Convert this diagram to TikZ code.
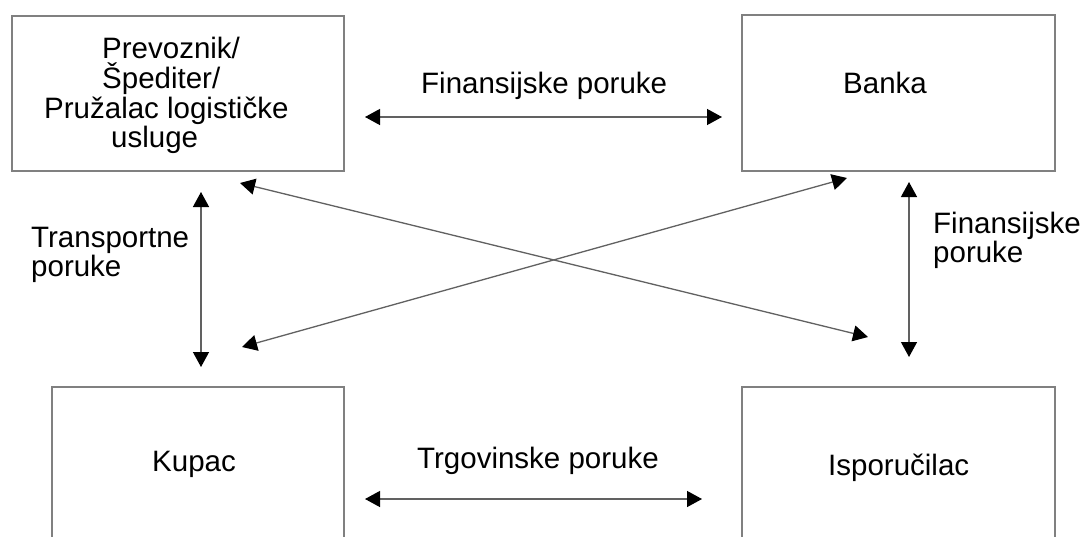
\documentclass[tikz,border=0pt]{standalone}
\usepackage{fontspec}
\setmainfont{Liberation Sans}
\usetikzlibrary{arrows.meta}

\begin{document}
\begin{tikzpicture}[x=1pt,y=-1pt,
  party/.style={draw=black!50, line width=1.6pt, fill=none, inner sep=0pt},
  txt/.style={anchor=base west, inner sep=0pt, font=\fontsize{29.5}{30}\selectfont, text=black},
  msg/.style={draw=black!62, line width=1.3pt,
    {Triangle[length=15pt,width=16pt,color=black]}-{Triangle[length=15pt,width=16pt,color=black]}}
]
\clip (0,0) rectangle (1083,536);
\fill[white] (0,0) rectangle (1083,536);

% the four parties
\node[party, minimum width=332pt, minimum height=155pt] (carrier) at (178,93.5) {};
\node[party, minimum width=313pt, minimum height=156pt] (bank) at (898.5,93) {};
\node[party, minimum width=292pt, minimum height=173pt] (buyer) at (198,473.5) {};
\node[party, minimum width=313pt, minimum height=173pt] (supplier) at (898.5,473.5) {};

% party names
\node[txt] (c1) at (102,58) {Prevoznik/};
\node[txt] (c2) at (102,88) {Špediter/};
\node[txt] (c3) at (44,118) {Pružalac logističke};
\node[txt] (c4) at (111,147) {usluge};
\node[txt] (bankname) at (843,93) {Banka};
\node[txt] (buyername) at (152,471) {Kupac};
\node[txt] (suppliername) at (828,475) {Isporučilac};

% message labels
\node[txt] (finTop) at (421,93) {Finansijske poruke};
\node[txt] (trade) at (417,468) {Trgovinske poruke};
\node[txt] (tr1) at (31,247) {Transportne};
\node[txt] (tr2) at (31,276) {poruke};
\node[txt] (fr1) at (933,233) {Finansijske};
\node[txt] (fr2) at (933,262) {poruke};

% arrow end points
\coordinate (hTopL) at (365,117);
\coordinate (hTopR) at (722,117);
\coordinate (hBotL) at (365,499);
\coordinate (hBotR) at (702,499);
\coordinate (vLeftT) at (201,192);
\coordinate (vLeftB) at (201,367);
\coordinate (vRightT) at (909,182);
\coordinate (vRightB) at (909,357);
\coordinate (dA1) at (240,183);
\coordinate (dA2) at (868,337);
\coordinate (dB1) at (242,347);
\coordinate (dB2) at (847,178);

% message flows
\draw[msg] (hTopL) -- (hTopR);
\draw[msg] (hBotL) -- (hBotR);
\draw[msg] (vLeftT) -- (vLeftB);
\draw[msg] (vRightT) -- (vRightB);
\draw[msg] (dA1) -- (dA2);
\draw[msg] (dB1) -- (dB2);
\end{tikzpicture}
\end{document}
